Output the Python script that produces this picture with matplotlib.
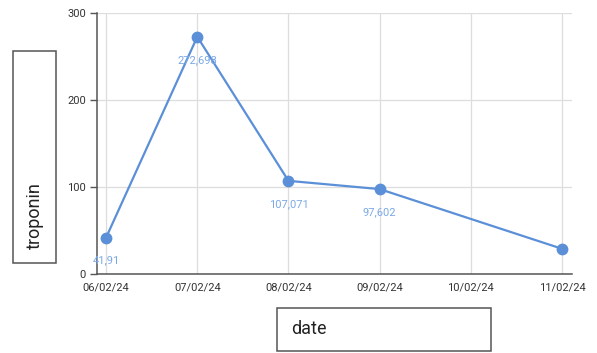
import matplotlib.pyplot as plt
from matplotlib.patches import Rectangle

plt.rcParams['font.family'] = ['Roboto', 'DejaVu Sans']

# troponin readings per day
dates = ['06/02/24', '07/02/24', '08/02/24', '09/02/24', '10/02/24', '11/02/24']
day_idx = [0, 1, 2, 3, 5]
troponin = [41.91, 272.698, 107.071, 97.602, 29.0]
point_labels = ['41,91', '272,698', '107,071', '97,602', '']
y_ticks = [0, 100, 200, 300]

line_col = '#5b8fd8'
label_col = '#7aa8e6'

fig = plt.figure(figsize=(5.97, 3.53), dpi=100)
W, H = 597, 353
# axes box in pixels: left 97, right 572, top 13, bottom 274
ax = fig.add_axes([97 / W, 1 - 274 / H, (572 - 97) / W, (274 - 13) / H])

ax.plot(day_idx, troponin, color=line_col, lw=1.6, marker='o', ms=8.5,
        markeredgewidth=0, zorder=3, clip_on=False)
for x, y, t in zip(day_idx, troponin, point_labels):
    if t:
        ax.annotate(t, (x, y), xytext=(0, -13), textcoords='offset points',
                    ha='center', va='top', fontsize=8, color=label_col)

ax.set_xlim(-0.1, 5.11)
ax.set_ylim(0, 300)
ax.set_xticks(range(len(dates)))
ax.set_xticklabels(dates)
ax.set_yticks(y_ticks)
ax.tick_params(axis='x', length=0, pad=6, labelsize=8, labelcolor='#333333')
ax.tick_params(axis='y', length=5, width=1, color='#555555', pad=3,
               labelsize=8, labelcolor='#333333')
ax.grid(True, color='#dddddd', lw=0.9)
ax.set_axisbelow(True)
for s in ['top', 'right']:
    ax.spines[s].set_visible(False)
for s in ['left', 'bottom']:
    ax.spines[s].set_color('#555555')
    ax.spines[s].set_linewidth(1.1)

# framed axis titles
def framed(x0, y0, x1, y1, text, rot):
    fig.patches.append(Rectangle((x0 / W, 1 - y1 / H), (x1 - x0) / W, (y1 - y0) / H,
                                 transform=fig.transFigure, fill=False,
                                 ec='#555555', lw=1.1))
    if rot:
        fig.text((x0 + x1) / 2 / W, 1 - 216 / H, text, rotation=90,
                 ha='center', va='center', fontsize=13, color='#222222')
    else:
        fig.text((x0 + 14) / W, 1 - (y0 + y1) / 2 / H, text,
                 ha='left', va='center', fontsize=13, color='#222222')

framed(13, 51, 56, 263, 'troponin', True)
framed(277, 308, 491, 351, 'date', False)

fig.savefig('out.png', dpi=100)
